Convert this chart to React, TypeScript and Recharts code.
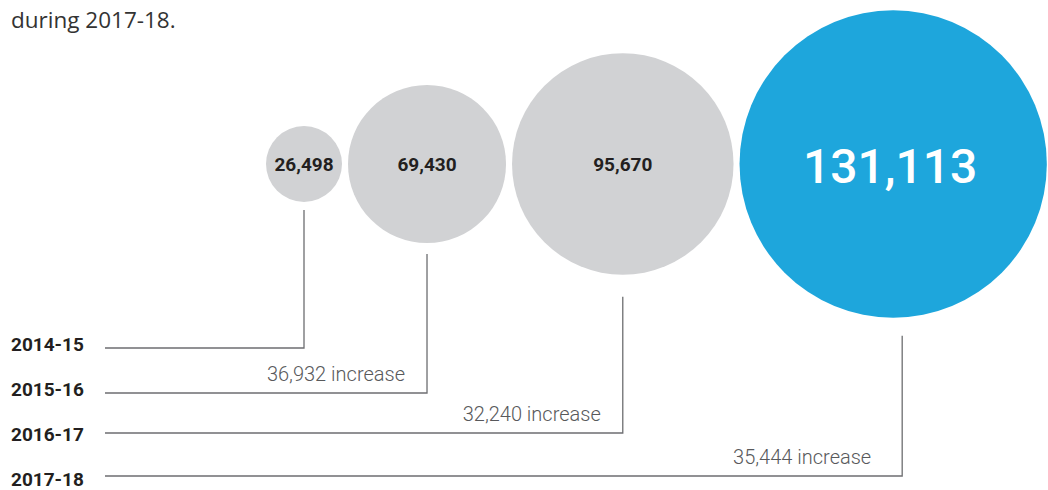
import { Scatter, ScatterChart, XAxis, YAxis } from "recharts";

const years = ["2014-15", "2015-16", "2016-17", "2017-18"];
const totals = [26498, 69430, 95670, 131113];
const increases = [null, 36932, 32240, 35444];

// layout
const W = 1048;
const H = 490;
const firstX = 304;
const gap = 6;
const lineY = [348, 393, 433, 476];
const stemGap = [8, 11, 22, 18];
const stemDx = [0, 0, 0, 9];
const lineLeft = 105;

const radius = (v: number) => Math.max(38, v * 0.00121 - 5);

const rows = (() => {
  let x = firstX;
  return totals.map((v, i) => {
    const r = radius(v);
    if (i > 0) x += radius(totals[i - 1]) + gap + r;
    return { year: years[i], value: v, increase: increases[i], r, x, y: 0, i };
  });
})();

const fmt = (n: number) => n.toLocaleString("en-US");

function Bubble(props: any) {
  const { cx, cy, payload } = props;
  const { r, i, value, increase, year } = payload;
  const last = i === rows.length - 1;
  const ly = lineY[i];
  const sx = cx + stemDx[i];
  return (
    <g>
      <circle cx={cx} cy={cy} r={r} fill={last ? "#1ea6dc" : "#d1d2d4"} />
      <text
        x={last ? cx - 3 : cx}
        y={cy}
        dy={last ? 19 : 7}
        textAnchor="middle"
        fontFamily="Roboto"
        fontWeight={last ? 500 : 700}
        fontSize={48}
        style={{ fontSize: last ? 48 : 19 }}
        fill={last ? "#ffffff" : "#231f20"}
      >
        {fmt(value)}
      </text>
      <path
        d={`M${sx},${cy + r + stemGap[i]}L${sx},${ly}L${lineLeft},${ly}`}
        fill="none"
        stroke="#6d6e71"
        strokeWidth={1.3}
      />
      {increase != null && (
        <text
          x={cx - 22}
          y={ly - 12}
          textAnchor="end"
          fontFamily="Roboto"
          fontWeight={300}
          fontSize={20}
          fill="#58595b"
        >
          {fmt(increase)} increase
        </text>
      )}
      <text
        x={11}
        y={351 + i * 45}
        fontFamily="Roboto"
        fontWeight={700}
        fontSize={19}
        fill="#231f20"
      >
        {year}
      </text>
    </g>
  );
}

export default function App() {
  return (
    <div style={{ position: "absolute", left: 0, top: 0, width: W, height: H, background: "#fff" }}>
      <div
        style={{
          position: "absolute",
          left: 11,
          top: 4,
          fontFamily: "'Open Sans'",
          fontSize: 22.5,
          color: "#333",
        }}
      >
        during 2017-18.
      </div>
      <ScatterChart width={W} height={H} margin={{ top: 0, right: 0, bottom: H - 2 * 164, left: 0 }}>
        <XAxis type="number" dataKey="x" domain={[0, W]} hide />
        <YAxis type="number" dataKey="y" domain={[-1, 1]} hide />
        <Scatter data={rows} shape={Bubble} isAnimationActive={false} />
      </ScatterChart>
    </div>
  );
}
